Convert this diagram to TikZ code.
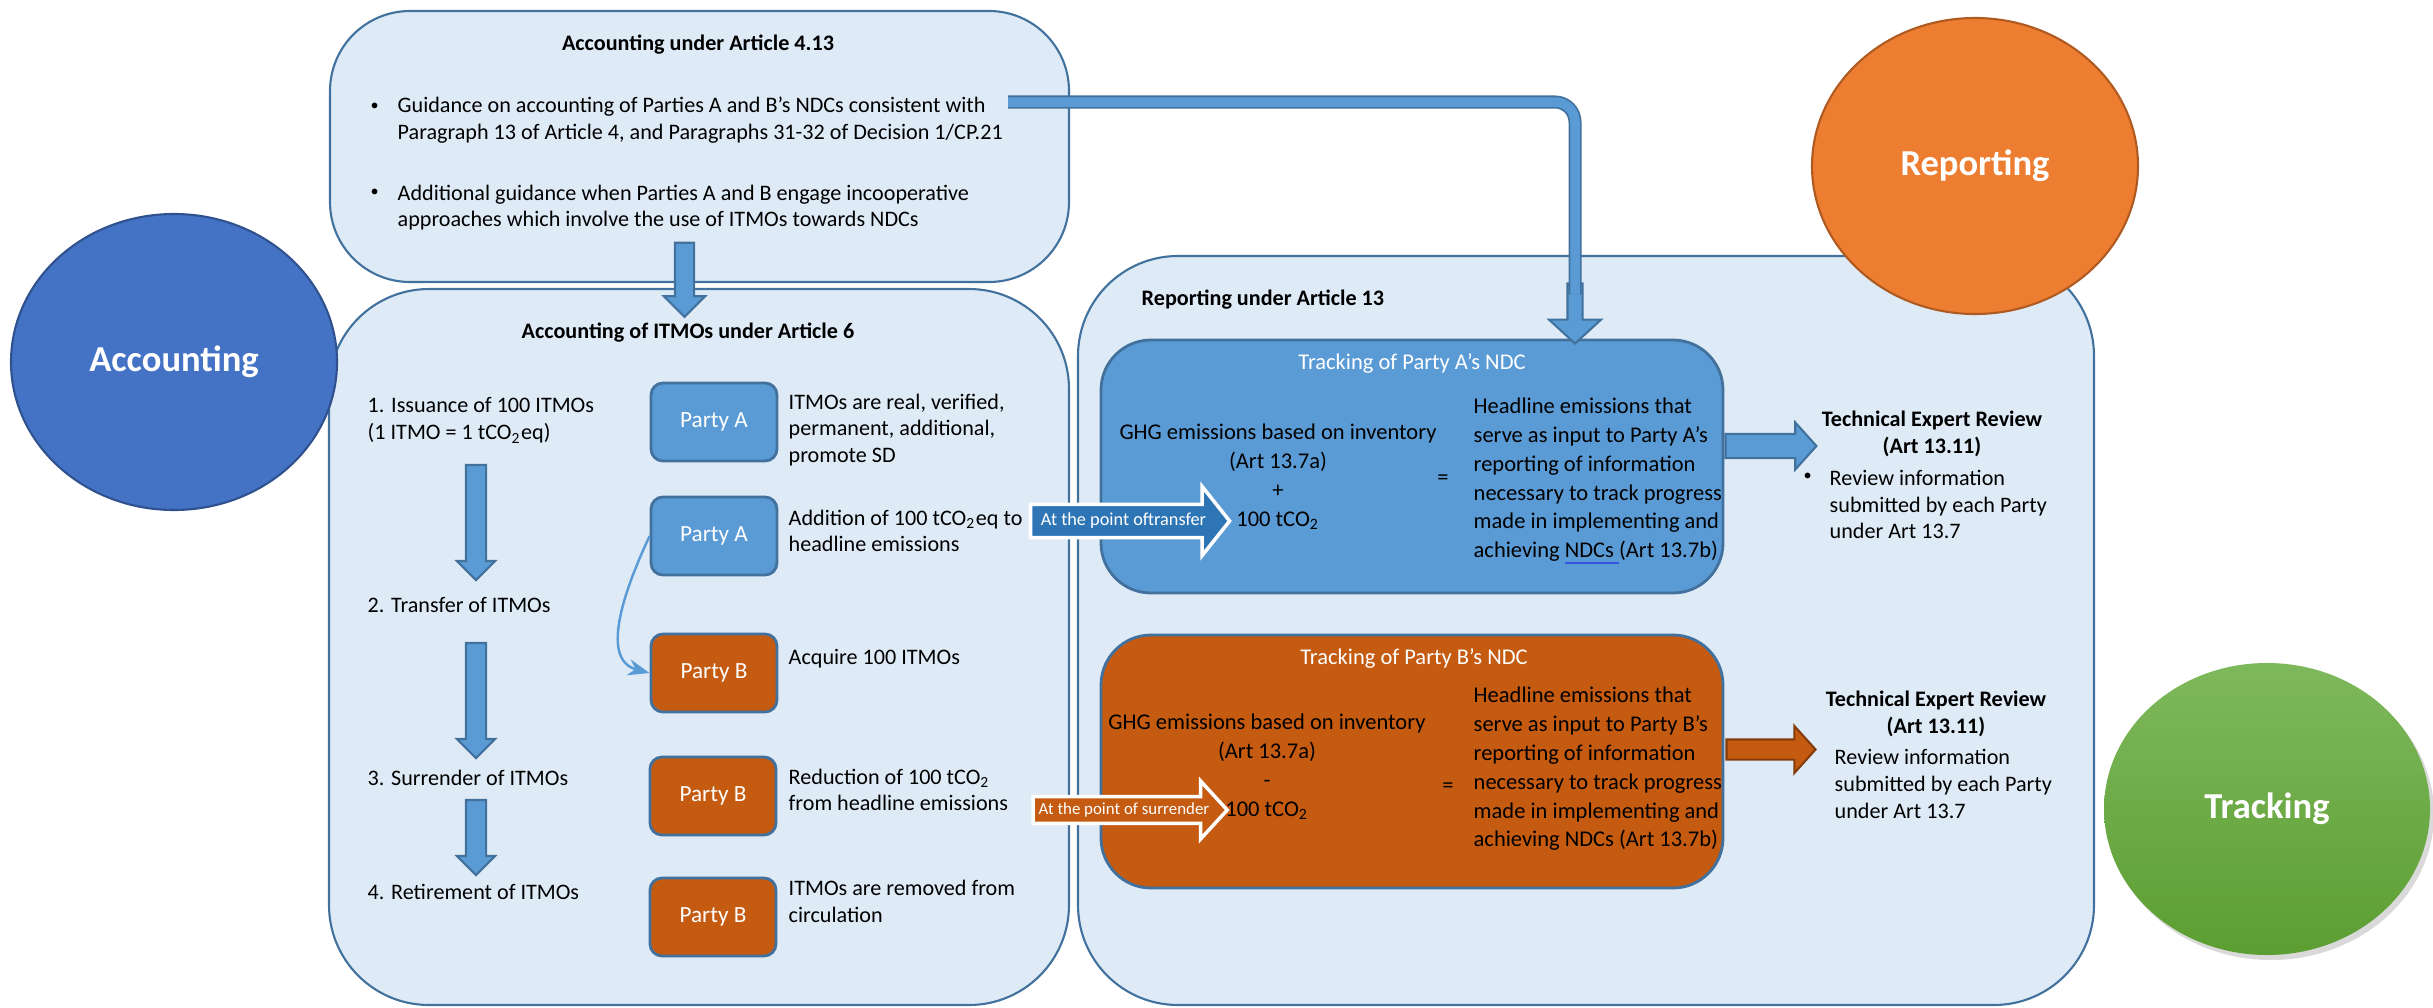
\documentclass[tikz,border=0pt]{standalone}
\usepackage{fontspec}
\setmainfont{Carlito}
\usepackage{tikz}
\usetikzlibrary{
  positioning,
  shapes.geometric,
  shapes.arrows,
  arrows.meta,
  shadows
}
\definecolor{paleblue}{HTML}{DEEBF7}
\definecolor{boxedge}{HTML}{41719C}
\definecolor{midblue}{HTML}{5B9BD5}
\definecolor{deepblue}{HTML}{2E75B6}
\definecolor{acctblue}{HTML}{4472C4}
\definecolor{acctedge}{HTML}{2F528F}
\definecolor{rustorange}{HTML}{C55A11}
\definecolor{rustedge}{HTML}{843C0C}
\definecolor{reportorange}{HTML}{ED7D31}
\definecolor{reportedge}{HTML}{AE5A21}
\definecolor{greentop}{HTML}{7EB85C}
\definecolor{greenbottom}{HTML}{5C9E32}
\definecolor{linkblue}{HTML}{3355DD}

\newcommand{\bodyfont}{\fontsize{6.3}{7.6}\selectfont}
\newcommand{\trackfont}{\fontsize{6.4}{8.2}\selectfont}
\newcommand{\bigfont}{\fontsize{10.4}{12}\selectfont\bfseries}
\newcommand{\tinyfont}{\fontsize{5.2}{6}\selectfont}
\newcommand{\dotmark}{{\fontsize{4.6}{5}\selectfont\textbullet}}

\tikzset{>=Stealth}
\tikzset{
  bigbox/.style={draw=boxedge, fill=paleblue, line width=0.6pt},
  topic/.style={ellipse, minimum width=3.26cm, minimum height=2.96cm,
    line width=0.6pt, text=white, font=\bigfont},
  trackbox/.style={draw=boxedge, line width=0.8pt, rounded corners=0.5cm,
    minimum width=6.22cm, minimum height=2.53cm},
  party/.style={draw=boxedge, line width=0.8pt, rounded corners=0.12cm,
    minimum width=1.26cm, minimum height=0.78cm, text=white,
    font=\fontsize{6.6}{7.6}\selectfont},
  txt/.style={inner sep=0pt, font=\bodyfont, align=left, anchor=west},
  hd/.style={inner sep=0pt, font=\bodyfont\bfseries},
  blockarrow/.style={single arrow, draw=boxedge, fill=midblue,
    line width=0.6pt, inner xsep=0pt},
  pointarrow/.style={single arrow, draw=white, line width=1pt,
    text=white, font=\tinyfont, inner xsep=0.5pt}
}

\begin{document}
\begin{tikzpicture}
\useasboundingbox (0,0) rectangle (24.33,-10.07);

% the three framing boxes
\node[bigbox, rounded corners=0.8cm, minimum width=7.39cm,
  minimum height=2.71cm] (acct413) at (6.995,-1.465) {};
\node[bigbox, rounded corners=1cm, minimum width=7.40cm,
  minimum height=7.16cm] (art6) at (6.99,-6.47) {};
\node[bigbox, rounded corners=1cm, minimum width=10.16cm,
  minimum height=7.49cm] (art13) at (15.86,-6.305) {};

% Article 4.13
\node[hd] (acct413title) at (6.98,-0.45) {Accounting under Article 4.13};
\node[txt] (dot1) at (3.70,-1.07) {\dotmark};
\node[txt] (guide1) at (3.97,-1.20) {Guidance on accounting of Parties A and B’s NDCs consistent with\\
  Paragraph 13 of Article 4, and Paragraphs 31-32 of Decision 1/CP.21};
\node[txt] (dot2) at (3.70,-1.93) {\dotmark};
\node[txt] (guide2) at (3.97,-2.075) {Additional guidance when Parties A and B engage incooperative\\
  approaches which involve the use of ITMOs towards NDCs};

% Article 6
\node[hd] (art6title) at (6.88,-3.33) {Accounting of ITMOs under Article 6};
\node[txt] (step1) at (3.67,-4.205) {1. Issuance of 100 ITMOs\\(1 ITMO = 1 tCO\textsubscript{2}eq)};
\node[txt] (step2) at (3.67,-6.05) {2. Transfer of ITMOs};
\node[txt] (step3) at (3.67,-7.78) {3. Surrender of ITMOs};
\node[txt] (step4) at (3.67,-8.92) {4. Retirement of ITMOs};
\node[blockarrow, rotate=-90, minimum height=1.15cm, inner ysep=0.09cm,
  single arrow head extend=0.09cm] (down12) at (4.76,-5.175) {};
\node[blockarrow, rotate=-90, minimum height=1.15cm, inner ysep=0.09cm,
  single arrow head extend=0.09cm] (down23) at (4.76,-6.955) {};
\node[blockarrow, rotate=-90, minimum height=0.75cm, inner ysep=0.09cm,
  single arrow head extend=0.09cm] (down34) at (4.76,-8.325) {};

\node[party, fill=midblue] (pa1) at (7.14,-4.22) {Party A};
\node[party, fill=midblue] (pa2) at (7.14,-5.36) {Party A};
\node[party, fill=rustorange] (pb1) at (7.14,-6.73) {Party B};
\node[party, fill=rustorange] (pb2) at (7.13,-7.96) {Party B};
\node[party, fill=rustorange] (pb3) at (7.13,-9.17) {Party B};
\node[txt] (da1) at (7.88,-4.30) {ITMOs are real, verified,\\permanent, additional,\\promote SD};
\node[txt] (da2) at (7.88,-5.31) {Addition of 100 tCO\textsubscript{2}eq to\\headline emissions};
\node[txt] (db1) at (7.88,-6.59) {Acquire 100 ITMOs};
\node[txt] (db2) at (7.88,-7.90) {Reduction of 100 tCO\textsubscript{2}\\from headline emissions};
\node[txt] (db3) at (7.88,-9.015) {ITMOs are removed from\\circulation};
\draw[->, midblue, line width=0.7pt] (pa2.west) to[out=-115, in=165] (pb1.west);

% Article 13
\node[hd, anchor=west] (art13title) at (11.41,-3.00) {Reporting under Article 13};

\node[trackbox, fill=midblue] (trackA) at (14.12,-4.665) {};
\node[inner sep=0pt, text=white, font=\trackfont] (trackAtitle) at (14.12,-3.63)
  {Tracking of Party A’s NDC};
\node[inner sep=0pt, font=\trackfont, align=center] (ghgA) at (12.78,-4.77)
  {GHG emissions based on inventory\\(Art 13.7a)\\+\\100 tCO\textsubscript{2}};
\node[inner sep=0pt, font=\trackfont] (eqA) at (14.43,-4.80) {=};
\node[txt, font=\trackfont] (outA) at (14.73,-4.815) {Headline emissions that\\
  serve as input to Party A’s\\reporting of information\\necessary to track progress\\
  made in implementing and\\achieving {\color{linkblue}\underline{\color{black}NDCs\ }}(Art 13.7b)};

\node[trackbox, fill=rustorange] (trackB) at (14.12,-7.615) {};
\node[inner sep=0pt, text=white, font=\trackfont] (trackBtitle) at (14.14,-6.58)
  {Tracking of Party B’s NDC};
\node[inner sep=0pt, font=\trackfont, align=center] (ghgB) at (12.67,-7.67)
  {GHG emissions based on inventory\\(Art 13.7a)\\-\\100 tCO\textsubscript{2}};
\node[inner sep=0pt, font=\trackfont] (eqB) at (14.48,-7.88) {=};
\node[txt, font=\trackfont] (outB) at (14.73,-7.69) {Headline emissions that\\
  serve as input to Party B’s\\reporting of information\\necessary to track progress\\
  made in implementing and\\achieving NDCs (Art 13.7b)};

\node[hd, align=center] (reviewA) at (19.32,-4.34) {Technical Expert Review\\(Art 13.11)};
\node[txt] (dotA) at (18.03,-4.77) {\dotmark};
\node[txt] (reviewAtext) at (18.29,-5.045) {Review information\\submitted by each Party\\under Art 13.7};
\node[hd, align=center] (reviewB) at (19.36,-7.14) {Technical Expert Review\\(Art 13.11)};
\node[txt] (dotB) at (18.05,-7.53) {\dotmark};
\node[txt] (reviewBtext) at (18.34,-7.84) {Review information\\submitted by each Party\\under Art 13.7};

% block arrows
\node[blockarrow, rotate=-90, minimum height=0.74cm, inner ysep=0.085cm,
  single arrow head extend=0.11cm] (toart6) at (6.845,-2.75) {};
\node[pointarrow, fill=deepblue, minimum height=1.99cm, inner ysep=0.07cm,
  single arrow head extend=0.18cm, single arrow tip angle=103] (transfer)
  at (11.235,-5.21) {At the point oftransfer};
\node[pointarrow, fill=rustorange, minimum height=1.94cm, inner ysep=0.045cm,
  inner xsep=0pt, font=\fontsize{4.8}{5.5}\selectfont,
  single arrow head extend=0.155cm, single arrow tip angle=95] (surrender)
  at (11.24,-8.10) {At the point of surrender};
\node[blockarrow, minimum height=0.91cm, inner ysep=0.11cm,
  single arrow head extend=0.115cm, single arrow tip angle=96] (toreviewA)
  at (17.655,-4.46) {};
\node[blockarrow, fill=rustorange, draw=rustedge, minimum height=0.89cm,
  inner ysep=0.09cm, single arrow head extend=0.135cm,
  single arrow tip angle=96] (toreviewB) at (17.665,-7.495) {};

\node[blockarrow, rotate=-90, minimum height=0.6cm, inner ysep=0.065cm,
  single arrow head extend=0.185cm, single arrow tip angle=95] (elbowhead)
  at (15.75,-3.10) {};
\coordinate (elbowstart) at (10.08,-1.02);
\draw[draw=boxedge, line width=0.5pt, double=midblue, double distance=0.095cm,
  rounded corners=0.2cm] (elbowstart) -| ([yshift=-0.12cm]elbowhead.tail);

% topic ellipses
\node[topic, fill=acctblue, draw=acctedge] (accounting) at (1.74,-3.62) {Accounting};
\node[topic, fill=reportorange, draw=reportedge] (reporting) at (19.75,-1.66) {Reporting};
\node[topic, top color=greentop, bottom color=greenbottom, draw=none,
  minimum height=2.92cm, drop shadow={opacity=0.3, shadow xshift=0.04cm,
  shadow yshift=-0.05cm}] (tracking) at (22.67,-8.09) {Tracking};
\end{tikzpicture}
\end{document}
